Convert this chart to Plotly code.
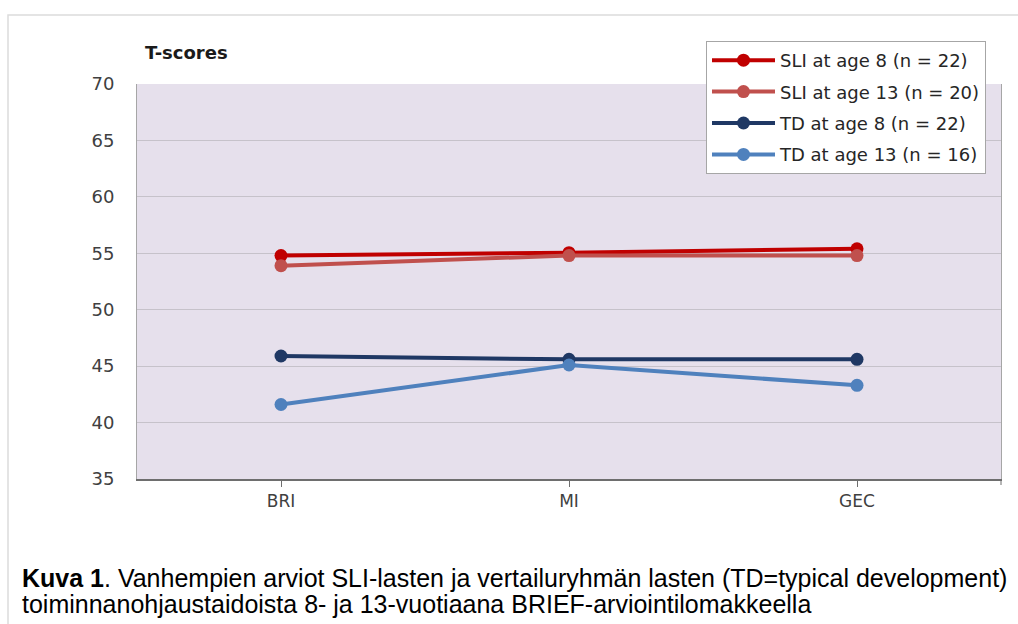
import plotly.graph_objects as go

categories = ["BRI", "MI", "GEC"]
series_names = ["SLI at age 8 (n = 22)", "SLI at age 13 (n = 20)",
                "TD at age 8 (n = 22)", "TD at age 13 (n = 16)"]
sli8 = [54.8, 55.05, 55.4]
sli13 = [53.9, 54.8, 54.8]
td8 = [45.9, 45.6, 45.6]
td13 = [41.6, 45.1, 43.3]
y_ticks = [35, 40, 45, 50, 55, 60, 65, 70]
caption_lines = [
    "<b>Kuva 1</b>. Vanhempien arviot SLI-lasten ja vertailuryhmän lasten (TD=typical development)",
    "toiminnanohjaustaidoista 8- ja 13-vuotiaana BRIEF-arviointilomakkeella",
]

colors = ["#C00000", "#C0504D", "#1F3864", "#4F81BD"]
series = [sli8, sli13, td8, td13]

fig = go.Figure()
for i, (name, vals, c) in enumerate(zip(series_names, series, colors)):
    fig.add_trace(go.Scatter(
        x=categories, y=vals, name=name, mode="lines+markers",
        legendgroup=f"g{i}",
        line=dict(color=c, width=4),
        marker=dict(color=c, size=13),
    ))

FONT = "DejaVu Sans, Open Sans, sans-serif"
L, R, T, B = 137, 17, 84, 145
W, H = 1018, 624
pw = W - L - R
ph = H - T - B


def px(x):
    return (x - L) / pw


def py(y):
    return (H - B - y) / ph


annotations = [
    dict(text="<b>T-scores</b>", xref="paper", yref="paper",
         x=px(143), y=py(52), xanchor="left", yanchor="middle", showarrow=False,
         font=dict(family=FONT, size=18, color="#1A1A1A")),
]
for line_text, yc in zip(caption_lines, [578, 604]):
    annotations.append(dict(
        text=line_text, xref="paper", yref="paper", x=px(20), y=py(yc),
        xanchor="left", yanchor="middle", align="left", showarrow=False,
        font=dict(family="Liberation Sans, Arial, sans-serif", size=25, color="#000000")))

fig.update_layout(
    width=W, height=H,
    margin=dict(l=L, r=R, t=T, b=B, autoexpand=False),
    paper_bgcolor="white",
    plot_bgcolor="#E6E0EC",
    showlegend=True,
    legend=dict(
        x=px(706), y=py(41), xanchor="left", yanchor="top",
        bgcolor="white", bordercolor="#A6A6A6", borderwidth=1,
        font=dict(family=FONT, size=18, color="#262626"),
        itemwidth=63, tracegroupgap=5,
    ),
    xaxis=dict(
        type="category", range=[-0.5, 2.5],
        showgrid=False, showline=True, linecolor="#6E6E6E", linewidth=1.5,
        ticks="outside", ticklen=6, tickcolor="#6E6E6E", tickwidth=1,
        tickfont=dict(family=FONT, size=17, color="#404040"),
        ticklabelstandoff=0,
    ),
    yaxis=dict(
        range=[35, 70], tickvals=y_ticks,
        showgrid=True, gridcolor="#C6C2CA", gridwidth=1,
        showline=True, linecolor="#A6A6A6", linewidth=1, mirror=True,
        ticks="", tickfont=dict(family=FONT, size=18, color="#404040"),
        ticklabelstandoff=18,
        zeroline=False,
    ),
    shapes=[
        dict(type="rect", xref="paper", yref="paper",
             x0=px(8), x1=px(1030), y0=py(640), y1=py(15),
             line=dict(color="#DCDCDC", width=1.5), fillcolor="rgba(0,0,0,0)", layer="below"),
        dict(type="line", xref="paper", yref="paper",
             x0=1, x1=1, y0=0, y1=-6 / ph,
             line=dict(color="#6E6E6E", width=1)),
    ],
    annotations=annotations,
)

fig.write_html("out.html", config={"displayModeBar": False},
               post_script="document.body.style.margin='0';document.body.style.overflow='hidden';")
